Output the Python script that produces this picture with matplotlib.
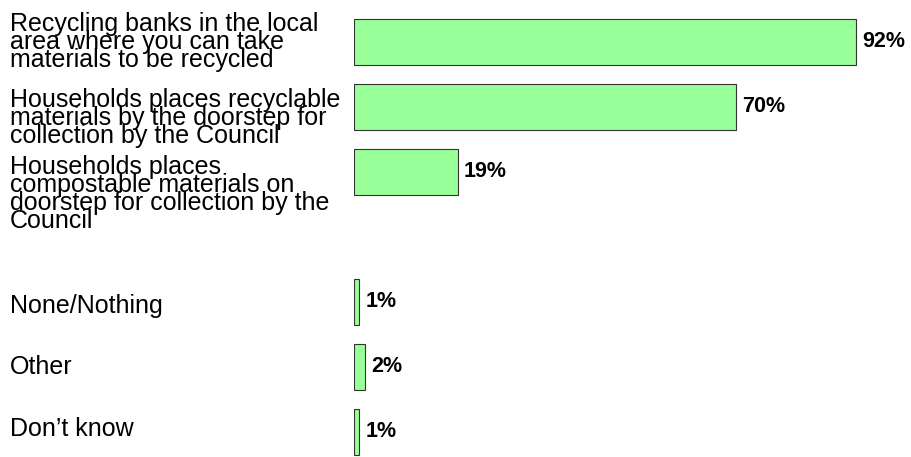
import numpy as np
import matplotlib.pyplot as plt
import matplotlib.transforms as mtransforms

plt.rcParams['font.family'] = ['Liberation Sans', 'DejaVu Sans']

# survey answers, one empty slot between the main items and the rest
labels = ['Recycling banks in the local\narea where you can take\nmaterials to be recycled',
          'Households places recyclable\nmaterials by the doorstep for\ncollection by the Council',
          'Households places\ncompostable materials on\ndoorstep for collection by the\nCouncil',
          '',
          'None/Nothing',
          'Other',
          'Don\u2019t know']
values = [92, 70, 19, np.nan, 1, 2, 1]

# last-line baseline of each category text, pixels below the bar centre
shift_px = [25, 36, 56, 0, 11, 7, 4]

fig = plt.figure(figsize=(9.11, 4.57), dpi=100)
ax = fig.add_axes([354 / 911, 0, 1 - 354 / 911, 1])

pos = np.arange(len(values))
for y, v in zip(pos, values):
    if np.isnan(v):
        continue
    ax.barh(y, v, height=0.72, color='#99ff99', edgecolor='#333333', linewidth=0.8)
    ax.text(v + 1.1, y, '%d%%' % v, va='center', ha='left', fontsize=15.5,
            fontweight='bold', color='black')

ax.set_xlim(0, 557 / 5.457)
ax.set_ylim(6.385, -0.646)
ax.axis('off')

trans = mtransforms.blended_transform_factory(fig.transFigure, ax.transData)
for y, lab, dy in zip(pos, labels, shift_px):
    if not lab:
        continue
    ax.text(10 / 911, y + dy / 65, lab, transform=trans, ha='left', va='baseline',
            fontsize=18, linespacing=0.69, color='black')

fig.savefig('out.png', dpi=100)
